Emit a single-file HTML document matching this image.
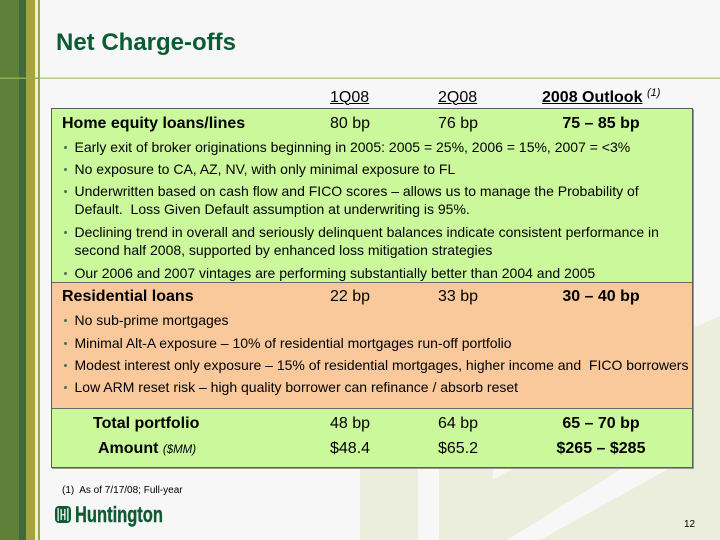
<!DOCTYPE html>
<html><head><meta charset="utf-8">
<style>
html,body{margin:0;padding:0}
body{width:720px;height:540px;position:relative;overflow:hidden;background:#f7f7f7;font-family:"Liberation Sans",Arial,sans-serif;color:#000}
.t{position:absolute;white-space:pre;line-height:1}
.b16{font-size:16px;font-weight:bold}
.r16{font-size:16px}
.s14{font-size:14px}
.d{position:absolute;width:3px;height:3px;border-radius:50%;background:#4d6e55;left:63.5px}
.c{width:120px;text-align:center}
</style></head><body>
<svg width="720" height="540" style="position:absolute;left:0;top:0" xmlns="http://www.w3.org/2000/svg">
  <!-- watermark -->
  <rect x="360" y="440" width="58" height="100" fill="#ebeedd"/>
  <rect x="439" y="440" width="281" height="100" fill="#ebeedd"/>
  <polygon points="693,328 720,316 720,540 693,540" fill="#ebeedd"/>
  <polygon points="493,466 493,480 517,466" fill="#f7f7f7"/>
  <polygon points="507,540 623,468 670,468 540,540" fill="#f7f7f7"/>
  <!-- left stripes -->
  <rect x="0" y="0" width="19" height="540" fill="#5f8038"/>
  <rect x="19" y="0" width="7" height="540" fill="#41693d"/>
  <rect x="26" y="0" width="9" height="540" fill="#a6a33b"/>
  <rect x="35" y="0" width="3" height="540" fill="#eceed8"/>
  <rect x="38" y="0" width="2" height="540" fill="#9ea248"/>
  <!-- rule -->
  <rect x="0" y="77.5" width="720" height="1.5" fill="#b7c88a"/>
  <rect x="0" y="77.5" width="40" height="1.5" fill="#8fb050"/>
  <!-- logo icon -->
  <rect x="55" y="506" width="16" height="17" rx="4" fill="#0e5c33"/>
  <rect x="57.5" y="508" width="1.3" height="13" fill="#f7f7f7"/>
  <rect x="60.5" y="509" width="1.3" height="11" fill="#f7f7f7"/>
  <rect x="64.2" y="509" width="1.3" height="11" fill="#f7f7f7"/>
  <rect x="67.2" y="508" width="1.3" height="13" fill="#f7f7f7"/>
  <rect x="60.5" y="514" width="5" height="1.3" fill="#f7f7f7"/>
</svg>

<div class="t" style="left:56px;top:31px;font-size:24px;font-weight:bold;color:#0b5b33">Net Charge-offs</div>

<div class="t r16" style="left:330px;top:89.5px;text-decoration:underline">1Q08</div>
<div class="t r16" style="left:438px;top:89.5px;text-decoration:underline">2Q08</div>
<div class="t b16" style="left:542px;top:89.5px;text-decoration:underline">2008 Outlook</div>
<div class="t" style="left:647px;top:88px;font-size:11px;font-style:italic">(1)</div>

<!-- box -->
<div style="position:absolute;left:51px;top:108px;width:640px;height:358px;border:1px solid #5c5c5c;box-shadow:1px 1px 0 #9a9a9a;background:#ccf89c"></div>
<div style="position:absolute;left:52px;top:282px;width:640px;height:125px;background:#f9c99c;border-top:1px solid #6a6a6a;border-bottom:1px solid #6a6a6a"></div>

<div class="t b16" style="left:62px;top:116.2px">Home equity loans/lines</div>
<div class="t r16" style="left:330px;top:116.2px">80 bp</div>
<div class="t r16" style="left:438px;top:116.2px">76 bp</div>
<div class="t b16 c" style="left:541px;top:116.2px">75 – 85 bp</div>

<div class="d" style="top:146px"></div>
<div class="t s14" style="left:74.5px;top:140.1px">Early exit of broker originations beginning in 2005: 2005 = 25%, 2006 = 15%, 2007 = &lt;3%</div>
<div class="d" style="top:167.5px"></div>
<div class="t s14" style="left:74.5px;top:161.6px">No exposure to CA, AZ, NV, with only minimal exposure to FL</div>
<div class="d" style="top:190px"></div>
<div class="t s14" style="left:74.5px;top:184.1px">Underwritten based on cash flow and FICO scores – allows us to manage the Probability of</div>
<div class="t s14" style="left:74.5px;top:202.4px">Default.  Loss Given Default assumption at underwriting is 95%.</div>
<div class="d" style="top:230.7px"></div>
<div class="t s14" style="left:74.5px;top:224.8px">Declining trend in overall and seriously delinquent balances indicate consistent performance in</div>
<div class="t s14" style="left:74.5px;top:243.1px">second half 2008, supported by enhanced loss mitigation strategies</div>
<div class="d" style="top:271.7px"></div>
<div class="t s14" style="left:74.5px;top:265.8px">Our 2006 and 2007 vintages are performing substantially better than 2004 and 2005</div>

<div class="t b16" style="left:62px;top:288.5px">Residential loans</div>
<div class="t r16" style="left:330px;top:288.5px">22 bp</div>
<div class="t r16" style="left:438px;top:288.5px">33 bp</div>
<div class="t b16 c" style="left:541px;top:288.5px">30 – 40 bp</div>

<div class="d" style="top:319px"></div>
<div class="t s14" style="left:74.5px;top:313.1px">No sub-prime mortgages</div>
<div class="d" style="top:341.7px"></div>
<div class="t s14" style="left:74.5px;top:335.8px">Minimal Alt-A exposure – 10% of residential mortgages run-off portfolio</div>
<div class="d" style="top:364px"></div>
<div class="t s14" style="left:74.5px;top:358.1px">Modest interest only exposure – 15% of residential mortgages, higher income and  FICO borrowers</div>
<div class="d" style="top:385.7px"></div>
<div class="t s14" style="left:74.5px;top:379.8px">Low ARM reset risk – high quality borrower can refinance / absorb reset</div>

<div class="t b16" style="left:93px;top:416.2px">Total portfolio</div>
<div class="t r16" style="left:330px;top:416.2px">48 bp</div>
<div class="t r16" style="left:438px;top:416.2px">64 bp</div>
<div class="t b16 c" style="left:541px;top:416.2px">65 – 70 bp</div>

<div class="t b16" style="left:98px;top:441.2px">Amount <span style="font-size:11.5px;font-weight:normal;font-style:italic">($MM)</span></div>
<div class="t r16" style="left:330px;top:441.2px">$48.4</div>
<div class="t r16" style="left:438px;top:441.2px">$65.2</div>
<div class="t b16 c" style="left:541px;top:441.2px">$265 – $285</div>

<div class="t" style="left:62px;top:486.2px;font-size:10px">(1)  As of 7/17/08; Full-year</div>

<div class="t" style="left:75px;top:503.5px;font-size:22px;font-weight:bold;color:#0e5c33;transform:scaleX(0.75);transform-origin:0 0;-webkit-text-stroke:0.4px #0e5c33">Huntington</div>

<div class="t" style="left:684px;top:519.5px;font-size:10px">12</div>
</body></html>
